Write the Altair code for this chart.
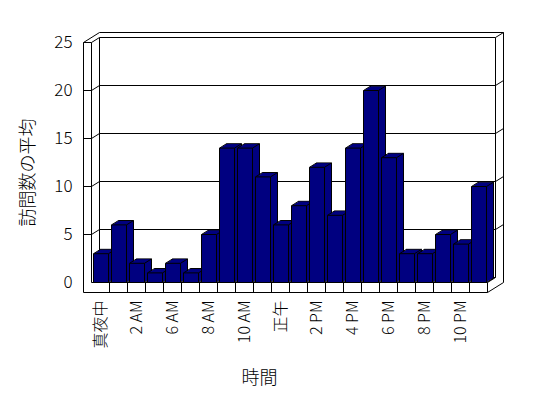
import altair as alt
import pandas as pd

# ---------------- data ----------------
categories = ["真夜中", "1 AM", "2 AM", "3 AM", "6 AM", "7 AM", "8 AM", "9 AM",
              "10 AM", "11 AM", "正午", "1 PM", "2 PM", "3 PM", "4 PM", "5 PM",
              "6 PM", "7 PM", "8 PM", "9 PM", "10 PM", "11 PM"]
values = [3, 6, 2, 1, 2, 1, 5, 14, 14, 11, 6, 8, 12, 7, 14, 20, 13, 3, 3, 5, 4, 10]
tick_labels = categories[::2]
y_ticks = [0, 5, 10, 15, 20, 25]

x_title = "時間"
y_title = "訪問数の平均"

# ---------------- style / geometry constants ----------------
NAVY = "#000080"
FONT = "Noto Sans CJK JP"
N = len(categories)
YMAX = y_ticks[-1]
SLOT_PX = 18.0          # pixels per category slot
UNIT_PX = 9.6           # pixels per value unit
DX = 8 / SLOT_PX        # depth offset (x) per depth unit, in slots
DY = 5 / UNIT_PX        # depth offset (y) per depth unit, in value units
WALL = 8 / SLOT_PX      # left wall thickness
FLOOR = 10 / UNIT_PX    # floor thickness
GAP_L = 2 / SLOT_PX
GAP_R = 1 / SLOT_PX
BAR_DEPTH = 0.875
K = 8                   # extrusion steps

W = 420
H = 260
HALF_X = 0.5 / SLOT_PX
HALF_Y = 0.5 / UNIT_PX
x_dom = [-WALL - HALF_X, -WALL - HALF_X + W / SLOT_PX]
y_top = YMAX + 2 * DY + HALF_Y
y_dom = [y_top - H / UNIT_PX, y_top]


def P(X, Y, Z):
    return X + Z * DX, Y + Z * DY


def seg(a, b):
    (x1, y1), (x2, y2) = P(*a), P(*b)
    return {"x": x1, "y": y1, "x2": x2, "y2": y2}


# ---------------- frame (walls, floor, grid) ----------------
frame = [
    seg((-WALL, -FLOOR, 0), (-WALL, YMAX, 0)),
    seg((-WALL, YMAX, 0), (0, YMAX, 0)),
    seg((0, YMAX, 0), (0, 0, 0)),
    seg((-WALL, -FLOOR, 0), (N, -FLOOR, 0)),
    seg((0, 0, 0), (N, 0, 0)),
    seg((N, -FLOOR, 0), (N, 0, 0)),
    seg((-WALL, YMAX, 0), (-WALL, YMAX, 2)),
    seg((0, YMAX, 0), (0, YMAX, 1)),
    seg((-WALL, YMAX, 2), (N, YMAX, 2)),
    seg((0, YMAX, 1), (N, YMAX, 1)),
    seg((0, 0, 1), (0, YMAX, 1)),
    seg((N, 0, 1), (N, YMAX, 1)),
    seg((0, 0, 1), (N, 0, 1)),
    seg((N, -FLOOR, 2), (N, YMAX, 2)),
    seg((N, YMAX, 1), (N, YMAX, 2)),
    seg((N, 0, 0), (N, 0, 1)),
    seg((N, -FLOOR, 0), (N, -FLOOR, 2)),
]
for k in range(1, N):
    frame.append(seg((k, -FLOOR, 0), (k, 0, 0)))
for v in y_ticks[1:-1]:
    frame.append(seg((0, v, 1), (N, v, 1)))
    frame.append(seg((0, v, 0), (0, v, 1)))
    frame.append(seg((-WALL, v, 0), (0, v, 0)))
    frame.append(seg((N, v, 1), (N, v, 2)))
frame_df = pd.DataFrame(frame)

# ---------------- bars ----------------
sweep_rows, edge_rows, front_rows = [], [], []
for i, (cat, v) in enumerate(zip(categories, values)):
    left, right = i + GAP_L, i + 1 - GAP_R
    front_rows.append({"x": left, "x2": right, "y": 0, "y2": v, "cat": cat})
    for k in list(range(K, 0, -1)):
        s = BAR_DEPTH * k / K
        sweep_rows.append({"x": left + s * DX, "x2": right + s * DX,
                           "y": s * DY, "y2": v + s * DY,
                           "so": 1 if k == K else 0})
    edge_rows.append(seg((left, v, 0), (left, v, BAR_DEPTH)))
    edge_rows.append(seg((right, v, 0), (right, v, BAR_DEPTH)))
    edge_rows.append(seg((right, 0, 0), (right, 0, BAR_DEPTH)))
sweep_df = pd.DataFrame(sweep_rows)
edge_df = pd.DataFrame(edge_rows)
front_df = pd.DataFrame(front_rows)

label_expr = "[" + ",".join("'" + t + "'" for t in tick_labels) + "][floor(datum.value / 2)]"

x_axis = alt.Axis(values=[i + 0.5 for i in range(0, N, 2)], labelExpr=label_expr,
                  labelAngle=270, labelAlign="right", labelBaseline="middle",
                  labelPadding=8, ticks=False, tickSize=0, domain=False, grid=False,
                  labelOverlap=False, labelFlush=False, labelFont=FONT, labelFontSize=16,
                  labelFontWeight=300, labelColor="black", title=x_title, titleFont=FONT,
                  titleFontSize=18, titleFontWeight=300, titleColor="black",
                  titleX=176, titleY=86, titleAlign="center", titleBaseline="middle")
y_axis = alt.Axis(values=y_ticks, format="d", ticks=False, tickSize=0, domain=False,
                  grid=False, labelPadding=11, labelFont=FONT, labelFontSize=17,
                  labelFontWeight=300, labelColor="black", labelOverlap=False,
                  labelFlush=False, title=y_title, titleFont=FONT, titleFontSize=18,
                  titleFontWeight=300, titleColor="black", titleAngle=270,
                  titleX=-55, titleY=140, titleAlign="center", titleBaseline="middle")


def enc():
    return dict(
        x=alt.X("x:Q", scale=alt.Scale(domain=x_dom, nice=False, zero=False), axis=x_axis),
        x2=alt.X2("x2:Q"),
        y=alt.Y("y:Q", scale=alt.Scale(domain=y_dom, nice=False, zero=False), axis=y_axis),
        y2=alt.Y2("y2:Q"),
    )


frame_layer = alt.Chart(frame_df).mark_rule(color="black", strokeWidth=1).encode(**enc())
sweep_layer = alt.Chart(sweep_df).mark_rect(fill=NAVY, stroke="black", strokeWidth=1).encode(
    strokeOpacity=alt.StrokeOpacity("so:Q", scale=None, legend=None), **enc())
edge_layer = alt.Chart(edge_df).mark_rule(color="black", strokeWidth=1).encode(**enc())
front_layer = alt.Chart(front_df).mark_rect(fill=NAVY, stroke="black", strokeWidth=1).encode(**enc())

chart = alt.layer(frame_layer, sweep_layer, edge_layer, front_layer).properties(
    width=W, height=H,
    autosize=alt.AutoSizeParams(type="none"),
    padding={"left": 75, "top": 24, "right": 37, "bottom": 98},
    background="white",
).configure_view(stroke=None)

chart.save("out.html", embed_options={"renderer": "svg", "actions": False})
